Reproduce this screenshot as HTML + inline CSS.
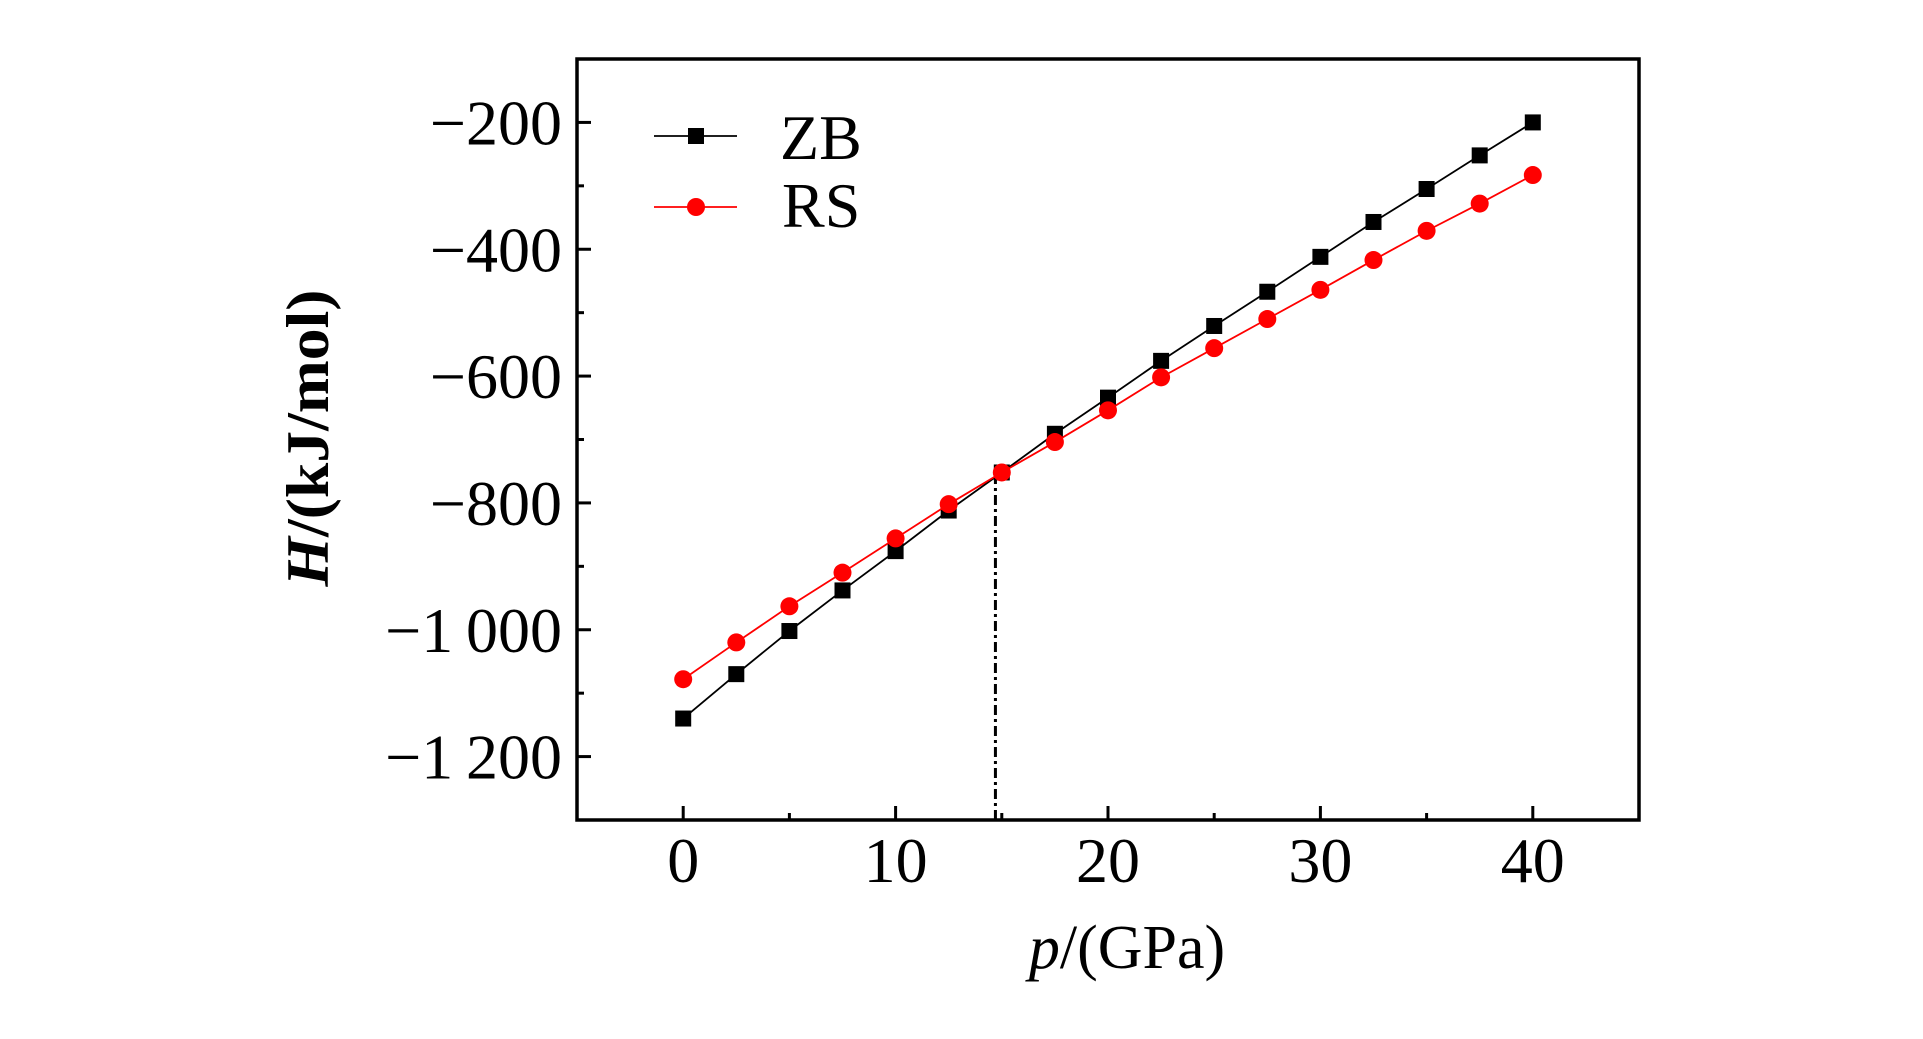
<!DOCTYPE html>
<html><head><meta charset="utf-8"><style>
html,body{margin:0;padding:0;background:#fff;}
svg{display:block;}
text{font-family:"Liberation Serif",serif;fill:#000;}
</style></head><body>
<svg id="chart" width="1923" height="1039" viewBox="0 0 1923 1039" xmlns="http://www.w3.org/2000/svg">
<g id="plot"></g>
</svg>
<script>
const pressures = [0,2.5,5,7.5,10,12.5,15,17.5,20,22.5,25,27.5,30,32.5,35,37.5,40];
const zbValues = [-1140,-1070,-1002,-938,-876,-812,-752,-691,-634,-576,-521,-467,-412,-357,-305,-252,-200];
const rsValues = [-1078,-1020,-963,-910,-856,-802,-752,-704,-654,-602,-556,-510,-464,-417,-371,-328,-283];
const xTicks = [0,10,20,30,40];
const xMinorTicks = [5,15,25,35];
const yTicks = [-200,-400,-600,-800,-1000,-1200];
const yTickLabels = ["\u2212200","\u2212400","\u2212600","\u2212800","\u22121\u2009000","\u22121\u2009200"];
const yMinorTicks = [-300,-500,-700,-900,-1100];
const transitionP = [14.7];

const L=577,R=1639,T=59,B=820;
const xMin=-5,xMax=45,yMin=-1300,yMax=-100;
function sx(v){return L+(v-xMin)/(xMax-xMin)*(R-L);}
function sy(v){return B-(v-yMin)/(yMax-yMin)*(B-T);}
const NS="http://www.w3.org/2000/svg";
const g=document.getElementById('plot');
function mk(tag,attrs,parent){const e=document.createElementNS(NS,tag);for(const k in attrs)e.setAttribute(k,attrs[k]);(parent||g).appendChild(e);return e;}

xTicks.forEach(v=>{const t=mk('line',{x1:sx(v),x2:sx(v),y1:B,y2:B-14,stroke:'#000','stroke-width':3});


const lb=mk('text',{x:sx(v),y:B+62,'font-size':64,'text-anchor':'middle'});lb.textContent=v;

});
xMinorTicks.forEach(v=>{const t=mk('line',{x1:sx(v),x2:sx(v),y1:B,y2:B-7,stroke:'#000','stroke-width':3});

});
yTicks.forEach((v,i)=>{const t=mk('line',{x1:L,x2:L+14,y1:sy(v),y2:sy(v),stroke:'#000','stroke-width':3});


const lb=mk('text',{x:562,y:sy(v)+22,'font-size':64,'text-anchor':'end'});lb.textContent=yTickLabels[i];

});
yMinorTicks.forEach(v=>{const t=mk('line',{x1:L,x2:L+7,y1:sy(v),y2:sy(v),stroke:'#000','stroke-width':3});

});

transitionP.forEach(p=>{const t=mk('line',{x1:sx(p),x2:sx(p),y1:B,y2:sy(-752),stroke:'#000','stroke-width':3,'stroke-dasharray':'10,4,3,4'});

});

function series(vals,color,name,shape){
  const pl=mk('polyline',{points:pressures.map((p,i)=>sx(p)+','+sy(vals[i])).join(' '),fill:'none',stroke:color,'stroke-width':1.8});
  
  
  pressures.forEach((p,i)=>{let m;
    if(shape==='sq'){m=mk('rect',{x:sx(p)-8,y:sy(vals[i])-8,width:16,height:16,fill:color});}
    else{m=mk('circle',{cx:sx(p),cy:sy(vals[i]),r:9,fill:color});}
    
    });
}
series(zbValues,'#000000','zb','sq');
series(rsValues,'#ff0000','rs','ci');

const fr=mk('rect',{x:L,y:T,width:R-L,height:B-T,fill:'none',stroke:'#000','stroke-width':3.5});



const lg=mk('g',{});


const l1=mk('line',{x1:654,x2:737,y1:136,y2:136,stroke:'#000','stroke-width':1.8},lg);


const m1=mk('rect',{x:688,y:128,width:16,height:16,fill:'#000'},lg);


const t1=mk('text',{x:780,y:159,'font-size':64},lg);t1.textContent='ZB';


const l2=mk('line',{x1:654,x2:737,y1:207,y2:207,stroke:'#ff0000','stroke-width':1.8},lg);


const m2=mk('circle',{cx:696,cy:207,r:9,fill:'#ff0000'},lg);


const t2=mk('text',{x:782,y:227,'font-size':64},lg);t2.textContent='RS';



const xt=mk('text',{x:1127,y:968,'font-size':62,'text-anchor':'middle'});
xt.innerHTML='<tspan font-style="italic">p</tspan>/(GPa)';


const yt=mk('text',{x:0,y:0,'font-size':60,'font-weight':'bold','text-anchor':'middle',transform:'translate(328,438) rotate(-90)',textLength:297,lengthAdjust:'spacingAndGlyphs'});
yt.innerHTML='<tspan font-style="italic">H</tspan>/(kJ/mol)';


</script>
</body></html>
